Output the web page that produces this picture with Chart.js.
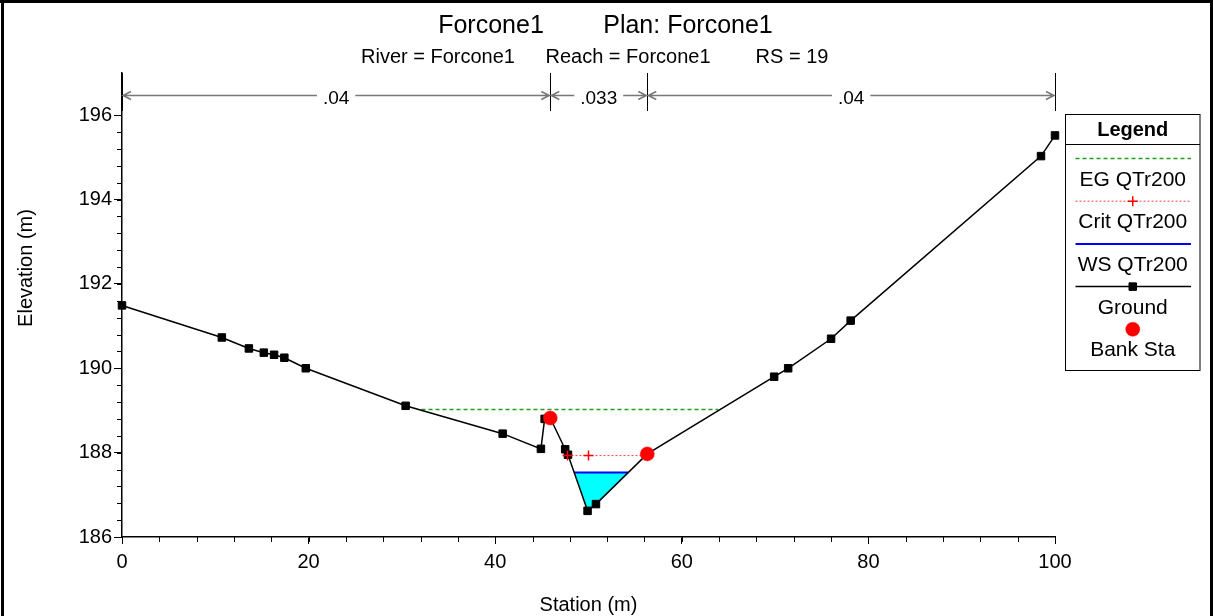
<!DOCTYPE html>
<html>
<head>
<meta charset="utf-8">
<script src="https://cdn.jsdelivr.net/npm/chart.js@4.4.1/dist/chart.umd.min.js"></script>
<style>
  html, body { margin: 0; padding: 0; background: #fff; }
  #wrap { width: 1213px; height: 616px; position: relative; }
</style>
</head>
<body>
<div id="wrap"><canvas id="xsChart"></canvas></div>
<script>
// cross section data (station m, elevation m)
const groundStation = [0, 10.7, 13.6, 15.2, 16.3, 17.4, 19.7, 30.4, 40.8, 44.9, 45.3, 45.9, 47.5, 47.8, 49.9, 50.8, 56.3, 69.9, 71.4, 76.0, 78.1, 98.5, 100];
const groundElev = [191.49, 190.73, 190.47, 190.37, 190.32, 190.25, 190.0, 189.11, 188.45, 188.09, 188.80, 188.82, 188.08, 187.95, 186.62, 186.78, 187.97, 189.80, 190.0, 190.70, 191.13, 195.03, 195.52];
const bankStation = [45.9, 56.3];
const bankElev = [188.82, 187.97];
const egStation = [32.1, 63.9];
const egElev = [189.02, 189.02];
const critStation = [47.75, 50.0, 56.3];
const critElev = [187.93, 187.93, 187.93];
const wsStation = [48.47, 54.27];
const wsElev = [187.53, 187.53];
const wetStation = [48.47, 49.9, 50.8, 54.27];
const wetElev = [187.53, 186.62, 186.78, 187.53];

// manning n zones
const nBreaks = [0, 45.9, 56.3, 100];
const nValues = ['.04', '.033', '.04'];

const titleParts = ['Forcone1', 'Plan: Forcone1'];
const subtitleParts = ['River = Forcone1', 'Reach = Forcone1', 'RS = 19'];
const yTitle = 'Elevation (m)';
const xTitle = 'Station (m)';

const FONT = '"Liberation Sans", Arial, sans-serif';

function pts(xs, ys) {
    return xs.map((x, i) => ({x: x, y: ys[i]}));
}

const decor = {
    id: 'decor',
    afterDraw(chart) {
        const ctx = chart.ctx;
        const area = chart.chartArea;
        const sx = chart.scales.x, sy = chart.scales.y;
        ctx.save();

        // minor ticks
        ctx.strokeStyle = '#000';
        ctx.lineWidth = 1;
        ctx.beginPath();
        for (let v = 186; v <= 196.001; v += 0.4) {
            const py = Math.round(sy.getPixelForValue(v)) + 0.5;
            ctx.moveTo(area.left - 5, py);
            ctx.lineTo(area.left, py);
        }
        for (let v = 0; v <= 100.001; v += 4) {
            const px = Math.round(sx.getPixelForValue(v)) + 0.5;
            ctx.moveTo(px, area.bottom);
            ctx.lineTo(px, area.bottom + 5);
        }
        ctx.stroke();

        // n value zones
        const ay = area.top + 22.5;
        ctx.font = '19px ' + FONT;
        ctx.fillStyle = '#000';
        ctx.textAlign = 'center';
        ctx.textBaseline = 'alphabetic';
        ctx.beginPath();
        nBreaks.forEach(b => {
            const px = Math.round(sx.getPixelForValue(b)) + 0.5;
            ctx.moveTo(px, area.top);
            ctx.lineTo(px, area.top + 38);
        });
        ctx.stroke();
        ctx.strokeStyle = '#777';
        ctx.lineWidth = 1.5;
        for (let i = 0; i < nValues.length; i++) {
            const x0 = sx.getPixelForValue(nBreaks[i]) + 1;
            const x1 = sx.getPixelForValue(nBreaks[i + 1]) - 1;
            const cx = (x0 + x1) / 2;
            const tw = ctx.measureText(nValues[i]).width;
            ctx.beginPath();
            ctx.moveTo(x0, ay); ctx.lineTo(cx - tw / 2 - 6, ay);
            ctx.moveTo(cx + tw / 2 + 6, ay); ctx.lineTo(x1, ay);
            ctx.moveTo(x0 + 8, ay - 4); ctx.lineTo(x0, ay); ctx.lineTo(x0 + 8, ay + 4);
            ctx.moveTo(x1 - 8, ay - 4); ctx.lineTo(x1, ay); ctx.lineTo(x1 - 8, ay + 4);
            ctx.stroke();
            ctx.fillText(nValues[i], cx, ay + 8);
        }

        // titles
        ctx.font = '25px ' + FONT;
        ctx.fillText(titleParts[0], 491, 33);
        ctx.fillText(titleParts[1], 688, 33);
        ctx.font = '20px ' + FONT;
        ctx.fillText(subtitleParts[0], 438, 63);
        ctx.fillText(subtitleParts[1], 628, 63);
        ctx.fillText(subtitleParts[2], 792, 63);

        // y axis title
        ctx.save();
        ctx.translate(32, 268);
        ctx.rotate(-Math.PI / 2);
        ctx.fillText(yTitle, 0, 0);
        ctx.restore();

        // legend box
        const lx = 1065.5, lw = 134.5, ltop = 114.5, lh = 256;
        ctx.strokeStyle = '#000';
        ctx.lineWidth = 1;
        ctx.strokeRect(lx, ltop, lw, lh);
        ctx.beginPath();
        ctx.moveTo(lx, ltop + 30); ctx.lineTo(lx + lw, ltop + 30);
        ctx.stroke();
        const lcx = lx + lw / 2;
        ctx.font = 'bold 20px ' + FONT;
        ctx.fillText('Legend', lcx, 136);
        ctx.font = '21px ' + FONT;
        const entries = ['EG QTr200', 'Crit QTr200', 'WS QTr200', 'Ground', 'Bank Sta'];
        entries.forEach((lab, i) => {
            const ds = chart.data.datasets.find(d => d.label === lab);
            const yy = 158.5 + i * 42.7;
            if (ds.showLine !== false) {
                ctx.save();
                ctx.strokeStyle = ds.borderColor;
                ctx.lineWidth = ds.borderWidth;
                ctx.setLineDash(ds.borderDash || []);
                ctx.beginPath();
                ctx.moveTo(lx + 10, yy); ctx.lineTo(lx + lw - 9, yy);
                ctx.stroke();
                ctx.restore();
            }
            if (ds.legendMarker) {
                ctx.save();
                ctx.fillStyle = ds.pointBackgroundColor || ds.backgroundColor || 'rgba(0,0,0,0)';
                ctx.strokeStyle = ds.pointBorderColor || ds.borderColor;
                ctx.lineWidth = ds.pointBorderWidth;
                Chart.helpers.drawPoint(ctx, {
                    pointStyle: ds.pointStyle,
                    radius: ds.legendMarker,
                    borderWidth: ds.pointBorderWidth
                }, lcx, yy);
                ctx.restore();
            }
            ctx.fillStyle = '#000';
            ctx.fillText(lab, lcx, yy + 27);
        });

        // outer frame
        ctx.fillStyle = '#000';
        ctx.fillRect(1, 0, 3, 616);
        ctx.fillRect(0, 0, 1213, 3);
        ctx.fillRect(1210, 0, 3, 616);
        ctx.restore();
    }
};

Chart.defaults.font.family = FONT;
Chart.defaults.font.size = 20;
Chart.defaults.color = '#000';

const ctx = document.getElementById('xsChart');
const xsChart = new Chart(ctx, {
    type: 'scatter',
    data: {
        datasets: [
            {
                label: 'Bank Sta',
                data: pts(bankStation, bankElev),
                showLine: false,
                pointStyle: 'circle',
                pointRadius: 7,
                backgroundColor: '#ff0000',
                borderColor: '#ff0000',
                pointBorderWidth: 0.5,
                legendMarker: 7,
                order: 0
            },
            {
                label: 'Crit QTr200',
                data: pts(critStation, critElev),
                showLine: true,
                borderColor: 'rgba(255,0,0,0.75)',
                borderWidth: 1,
                borderDash: [2, 2],
                pointStyle: 'cross',
                pointRadius: [5, 5, 0],
                pointBorderColor: '#ff0000',
                pointBorderWidth: 1.5,
                legendMarker: 5,
                order: 1
            },
            {
                label: 'Ground',
                data: pts(groundStation, groundElev),
                showLine: true,
                borderColor: '#000',
                borderWidth: 1.5,
                backgroundColor: '#000',
                pointStyle: 'rect',
                pointRadius: 5.3,
                pointBorderWidth: 1,
                legendMarker: 5.3,
                order: 2
            },
            {
                label: 'WS QTr200',
                data: pts(wsStation, wsElev),
                showLine: true,
                borderColor: '#0000ff',
                borderWidth: 2,
                pointRadius: 0,
                order: 3
            },
            {
                label: 'EG QTr200',
                data: pts(egStation, egElev),
                showLine: true,
                borderColor: '#1f9e1f',
                borderWidth: 1.5,
                borderDash: [4, 3],
                pointRadius: 0,
                order: 4
            },
            {
                label: 'Water',
                data: pts(wetStation, wetElev),
                showLine: true,
                borderColor: 'rgba(0,0,0,0)',
                borderWidth: 0,
                backgroundColor: '#00ffff',
                fill: {value: wsElev[0]},
                pointRadius: 0,
                order: 5
            }
        ]
    },
    options: {
        animation: false,
        responsive: true,
        maintainAspectRatio: false,
        clip: false,
        layout: {
            padding: {left: 0, right: 158, top: 73, bottom: 0}
        },
        plugins: {
            legend: {display: false},
            tooltip: {enabled: false}
        },
        scales: {
            x: {
                type: 'linear',
                min: 0,
                max: 100,
                ticks: {stepSize: 20, padding: 6, color: '#000'},
                grid: {drawOnChartArea: false, tickLength: 7, color: '#000'},
                border: {color: '#000', width: 1.5},
                title: {display: true, text: xTitle, padding: {top: 0, bottom: -1}},
                afterFit(scale) { scale.height = 79; }
            },
            y: {
                type: 'linear',
                min: 186,
                max: 197,
                ticks: {stepSize: 2, includeBounds: false, padding: 2, color: '#000'},
                grid: {drawOnChartArea: false, tickLength: 8, color: '#000'},
                border: {color: '#000', width: 1.5},
                afterFit(scale) { scale.width = 122; }
            }
        }
    },
    plugins: [decor]
});
</script>
</body>
</html>
